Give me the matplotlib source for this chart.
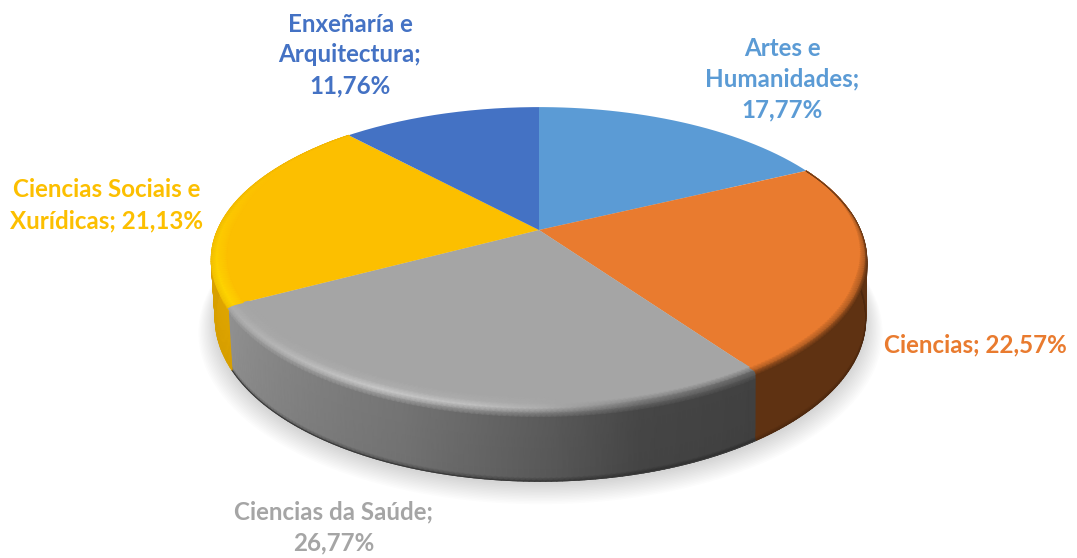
import numpy as np
import matplotlib
matplotlib.use("Agg")
import matplotlib.pyplot as plt
from matplotlib.colors import to_rgb
from matplotlib.path import Path
from matplotlib.transforms import Transform, Affine2D

categories = ["Artes e Humanidades", "Ciencias", "Ciencias da Saúde",
              "Ciencias Sociais e Xurídicas", "Enxeñaría e Arquitectura"]
values = [17.77, 22.57, 26.77, 21.13, 11.76]
labels = ["Artes e\nHumanidades;\n17,77%", "Ciencias; 22,57%",
          "Ciencias da Saúde;\n26,77%", "Ciencias Sociais e\nXurídicas; 21,13%",
          "Enxeñaría e\nArquitectura;\n11,76%"]
colors = ["#5B9BD5", "#E97B2F", "#A5A5A5", "#FCBF00", "#4472C4"]

CX, CY, A, B, K, H = 539.0, 230.0, 322.0, 146.0, 0.188, 58.0


def project(X, Y, z=0.0):
    w = 1 + K * Y
    return CX + 1.5 * z + A * (1 - 0.008 * z) * X / w, CY + (-B * Y + H * z) / w


class Perspective(Transform):
    input_dims = output_dims = 2

    def transform_non_affine(self, v):
        v = np.asarray(v, float)
        return np.column_stack(project(v[:, 0], v[:, 1]))

    def transform_path_non_affine(self, path):
        big = path.transformed(Affine2D().scale(400))
        polys = big.to_polygons(closed_only=True)
        return Path(self.transform_non_affine(polys[0] / 400), closed=True)


fig = plt.figure(figsize=(10.77, 5.58), dpi=100)
ax = fig.add_axes([0, 0, 1, 1])
wedges, _ = ax.pie(values, colors=colors, startangle=90, counterclock=False,
                   wedgeprops=dict(linewidth=0))
ax.set_aspect("auto")
persp = Perspective()

cum = np.cumsum([0] + values) * 3.6  # clockwise degrees from the top
th_art, th_cie, th_sau, th_soc = cum[1], cum[2], cum[3], cum[4]

# soft shadow under the disc
ring = np.radians(np.linspace(0, 360, 361))
for s, dy in zip(np.linspace(1.05, 1.0, 14), np.linspace(11, 3, 14)):
    x, y = project(s * np.sin(ring), s * np.cos(ring), 1.0)
    ax.fill(x, y + dy, color="k", alpha=0.011, lw=0, zorder=1)


def mesh(th_deg, prof, colfun, zorder, fade=None):
    th = np.radians(th_deg)
    f = np.ones_like(th) if fade is None else fade(th_deg)
    xs, ys, cs = [], [], []
    for i, (r, z) in enumerate(prof):
        rr = 1 - (1 - r) * f
        zz = z if z > 0.5 else z * f
        x, y = project(rr * np.sin(th), rr * np.cos(th), zz)
        xs.append(x)
        ys.append(y)
        cs.append(colfun(i, th_deg))
    ax.pcolormesh(np.array(xs), np.array(ys), np.clip(np.array(cs), 0, 1),
                  shading="gouraud", zorder=zorder, antialiased=True)


def rgbv(level):
    return np.stack([np.asarray(level) / 255.0] * 3, axis=-1)


# ---- grey wedge
gth = np.linspace(th_cie, th_sau, 120)
g_side = lambda t: np.interp(t, [145, 165, 180, 200, 220, 242], [0x41, 0x46, 0x5c, 0x74, 0x82, 0x92])
g_ridge = lambda t: np.interp(t, [145, 165, 180, 190, 205, 225, 242], [0x68, 0x80, 0xb0, 0xc2, 0xca, 0xb8, 0xae])
FACE = 0xA5


def gcol(i, t):
    side = g_side(t)
    ridge = g_ridge(t)
    one = np.ones_like(t)
    table = [FACE * one,
             np.where(ridge > FACE, FACE + (ridge - FACE) * 0.25, FACE * one),
             ridge,
             0.55 * ridge + 0.45 * side,
             side,
             side * 0.97,
             side * 0.62]
    return rgbv(table[i])


gprof = [(0.94, 0), (0.972, 0), (0.993, 0), (1.0, 0.03), (1.0, 0.11), (1.0, 0.95), (1.0, 1.0)]
mesh(gth, gprof[3:], lambda i, t: gcol(i + 3, t), 3)
mesh(gth, gprof[:4], gcol, 6)

# ---- orange wedge
oth = np.linspace(th_art, th_cie, 100)
o_face, o_side = np.array(to_rgb(colors[1])), np.array([0x5F, 0x32, 0x12]) / 255
o_fade = lambda t: np.clip((t - th_art) / 45, 0.12, 1)


def ocol(i, t):
    tab = [o_face, 0.45 * o_face + 0.55 * o_side, o_side, o_side, o_side * 0.8]
    return np.tile(tab[i], (len(t), 1))


oprof = [(0.975, 0), (0.995, 0), (1.0, 0.04), (1.0, 0.95), (1.0, 1.0)]
mesh(oth, oprof[2:], lambda i, t: ocol(i + 2, t), 3)
mesh(oth, oprof[:3], ocol, 6, o_fade)

# ---- yellow wedge
yth = np.linspace(th_sau, th_soc, 90)
y_face, y_side = np.array(to_rgb(colors[3])), np.array([0xE3, 0xA8, 0x00]) / 255
y_hi = np.array([0xFF, 0xD6, 0x00]) / 255
y_fade = lambda t: np.clip((th_soc - t) / 40, 0.12, 1)


def ycol(i, t):
    f = np.clip((300 - t) / 50, 0, 1)[:, None]
    hi = y_face + (y_hi - y_face) * f
    n = len(t)
    tab = [np.tile(y_face, (n, 1)), hi, 0.5 * hi + 0.5 * y_side, np.tile(y_side, (n, 1)),
           np.tile(y_side * 0.93, (n, 1))]
    return tab[i]


yprof = [(0.955, 0), (0.985, 0), (1.0, 0.02), (1.0, 0.08), (1.0, 1.0)]
mesh(yth, yprof[2:], lambda i, t: ycol(i + 2, t), 3)
mesh(yth, yprof[:3], ycol, 6, y_fade)

# top face from the pie wedges
for w in wedges:
    w.set_transform(persp + ax.transData)
    w.set_zorder(5)

# anti-aliased bottom outline
for t0, t1, c in [(th_art, th_cie, "#4d280e"), (th_cie, th_sau, "#3a3a3a"), (th_sau, th_soc, "#d8a000")]:
    t = np.radians(np.linspace(t0, t1, 150))
    x, y = project(np.sin(t), np.cos(t), 1.0)
    ax.plot(x, y, color=c, lw=0.8, zorder=4)

positions = [(782, 79), (975, 345), (334, 527), (107, 205), (350, 55)]
for lab, col, (px, py) in zip(labels, colors, positions):
    ax.text(px, py, lab, color=col, ha="center", va="center", fontsize=17.4,
            fontweight="bold", family="Lato", linespacing=1.42, zorder=10)

ax.set_xlim(0, 1077)
ax.set_ylim(558, 0)
ax.axis("off")
fig.savefig("out.png", dpi=100)
